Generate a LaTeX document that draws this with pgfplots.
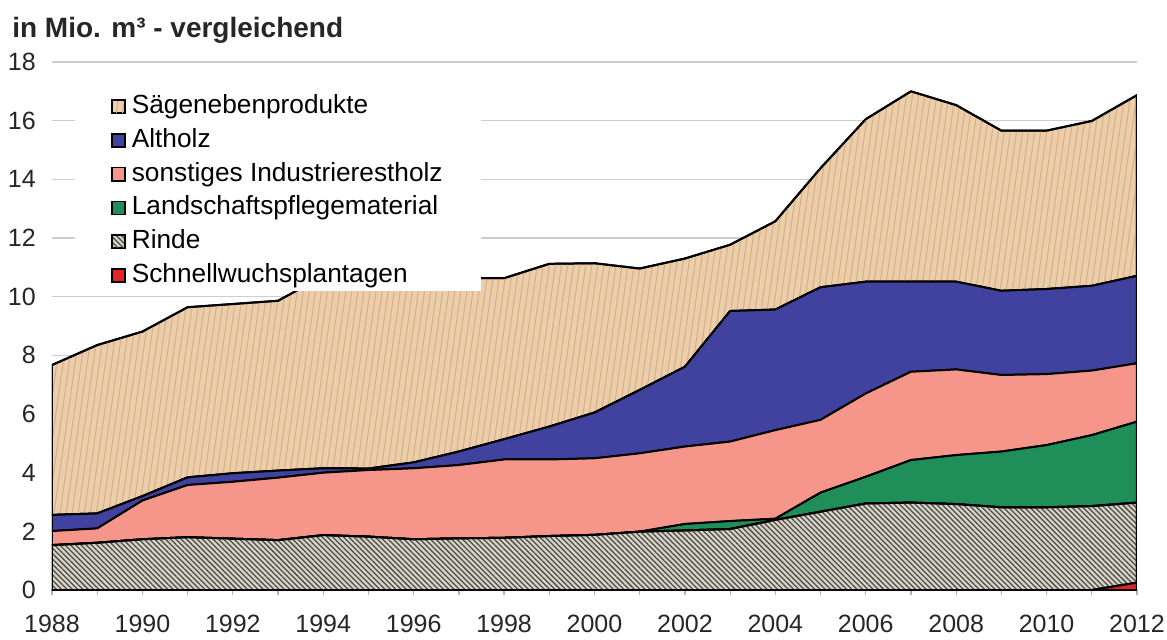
\documentclass[border=0pt]{standalone}
\usepackage{fontspec}
\setmainfont{Liberation Sans}
\usepackage{pgfplots}
\pgfplotsset{compat=1.18}
\usepackage{pgfplotstable}
\usetikzlibrary{patterns.meta}

\definecolor{schnell}{RGB}{226,35,40}
\definecolor{rindebg}{RGB}{214,211,198}
\definecolor{rindeln}{RGB}{75,75,70}
\definecolor{land}{RGB}{31,142,88}
\definecolor{ind}{RGB}{246,150,138}
\definecolor{alt}{RGB}{65,66,160}
\definecolor{saege}{RGB}{236,207,170}
\definecolor{saegedk}{RGB}{214,177,138}
\definecolor{gridgr}{RGB}{205,205,205}

% Mio. m3 je Sortiment (gestapelt, von unten)
\pgfplotstableread{
year sch  rin  lan  ind  alt  sae
1988 0    1.53 0    0.48 0.55 5.11
1989 0    1.61 0    0.49 0.51 5.74
1990 0    1.73 0    1.32 0.15 5.61
1991 0    1.80 0    1.78 0.26 5.80
1992 0    1.75 0    1.94 0.29 5.77
1993 0    1.70 0    2.13 0.24 5.79
1994 0    1.87 0    2.13 0.15 6.55
1995 0    1.82 0    2.27 0.05 6.56
1996 0    1.73 0    2.42 0.20 6.30
1997 0    1.76 0    2.50 0.46 5.91
1998 0    1.78 0    2.67 0.69 5.49
1999 0    1.84 0    2.61 1.12 5.55
2000 0    1.88 0    2.61 1.56 5.09
2001 0    1.99 0    2.67 2.16 4.14
2002 0    2.03 0.22 2.64 2.72 3.69
2003 0    2.08 0.27 2.71 4.45 2.26
2004 0    2.39 0.04 3.02 4.11 3.01
2005 0    2.67 0.65 2.48 4.52 4.06
2006 0    2.95 0.91 2.84 3.81 5.54
2007 0    2.98 1.45 3.01 3.07 6.49
2008 0    2.93 1.67 2.92 2.99 6.02
2009 0    2.82 1.90 2.61 2.87 5.46
2010 0    2.82 2.12 2.42 2.90 5.40
2011 0    2.86 2.42 2.20 2.89 5.62
2012 0.25 2.73 2.76 1.99 2.98 6.16
}\holz

\begin{document}
\begin{tikzpicture}
\path[use as bounding box] (-20.8pt,-19.6pt) rectangle (446pt,236pt);
\begin{axis}[
  at={(0,0)}, anchor=south west,
  scale only axis, width=434pt, height=211.2pt,
  xmin=1988, xmax=2012, ymin=0, ymax=18,
  stack plots=y, no markers,
  axis x line*=bottom, axis y line*=left,
  axis line style={draw=none},
  xtick={1988,1990,...,2012},
  minor xtick={1989,1991,...,2011},
  ytick={0,2,...,18},
  tick align=outside,
  major tick length=2pt, minor tick length=2pt,
  xtick style={draw=gray!60, line width=0.5pt},
  minor tick style={draw=gray!60, line width=0.5pt},
  ytick style={draw=none},
  ymajorgrids, grid style={draw=gridgr, line width=0.6pt},
  /pgf/number format/assume math mode=true,
  /pgf/number format/1000 sep={},
  ticklabel style={font=\fontsize{10}{12}\selectfont, text=black!85},
  yticklabel style={xshift=-1pt},
  xticklabel style={yshift=-4.6pt},
  reverse legend,
  legend cell align=left,
  legend image code/.code={\draw[#1,line width=0.6pt] (0pt,-2.65pt) rectangle (5.3pt,2.65pt);
    \path (6.6pt,0pt);},
  legend style={fill=white, draw=none, at={(axis cs:1988.5,10.17)}, anchor=south west,
    inner xsep=14.4pt, inner ysep=0.2pt, row sep=1.4pt,
    font=\fontsize{10.5}{12.5}\selectfont,
    nodes={inner xsep=1pt, inner ysep=1pt, text height=7.8pt, text depth=2.3pt}},
]
\addplot[fill=schnell, draw=black, line width=0.8pt]
  table[x=year, y=sch] {\holz} \closedcycle;
\addlegendentry{Schnellwuchsplantagen}
\addplot[preaction={fill=rindebg}, pattern={Lines[angle=-45,distance=1.5pt,line width=0.5pt]},
  pattern color=rindeln, draw=black, line width=0.8pt]
  table[x=year, y=rin] {\holz} \closedcycle;
\addlegendentry{Rinde}
\addplot[fill=land, draw=black, line width=0.8pt]
  table[x=year, y=lan] {\holz} \closedcycle;
\addlegendentry{Landschaftspflegematerial}
\addplot[fill=ind, draw=black, line width=0.8pt]
  table[x=year, y=ind] {\holz} \closedcycle;
\addlegendentry{sonstiges Industrierestholz}
\addplot[fill=alt, draw=black, line width=0.8pt]
  table[x=year, y=alt] {\holz} \closedcycle;
\addlegendentry{Altholz}
\addplot[preaction={fill=saege}, pattern={Lines[angle=82,distance=2.4pt,line width=0.45pt]},
  pattern color=saegedk, draw=black, line width=0.8pt]
  table[x=year, y=sae] {\holz} \closedcycle;
\addlegendentry{Sägenebenprodukte}
\end{axis}
\node[anchor=base west, font=\fontsize{11.2}{13}\selectfont\bfseries, text=black!85]
  at (-19.4pt,221.2pt) {in Mio. m³ - vergleichend};
\end{tikzpicture}
\end{document}
